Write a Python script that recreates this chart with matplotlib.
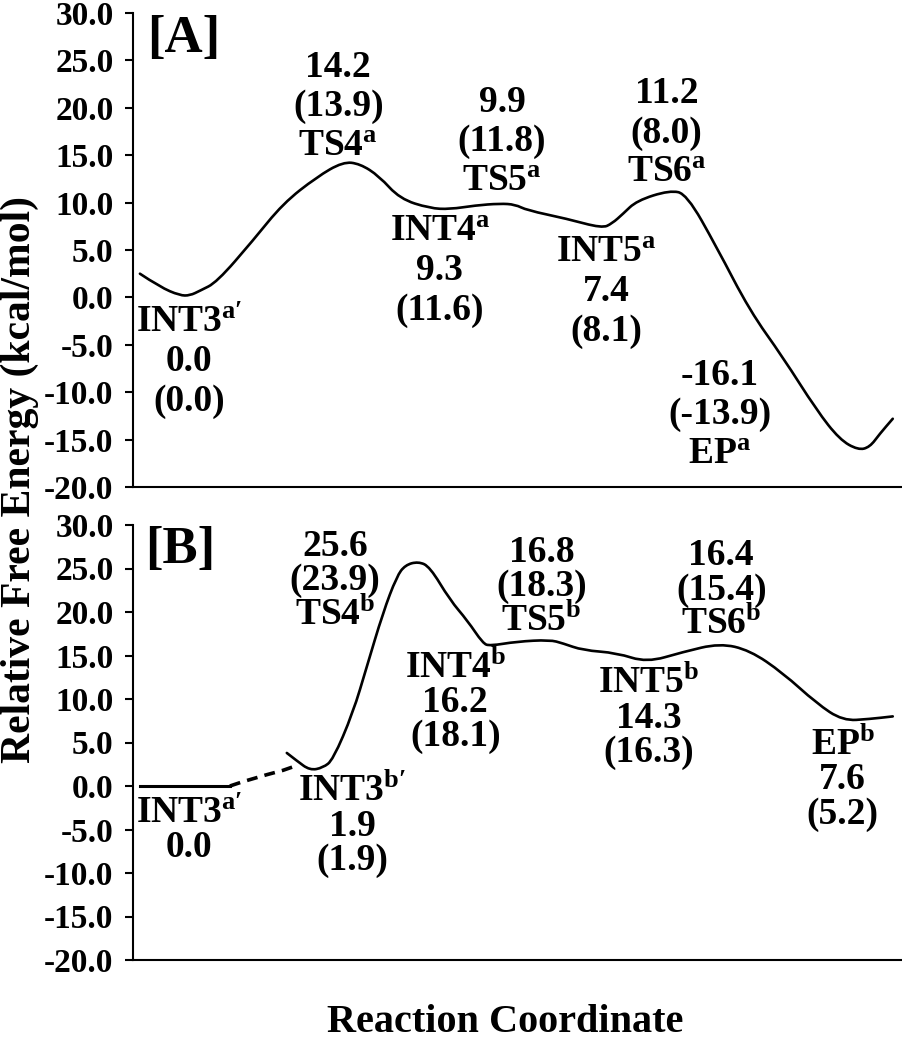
import matplotlib
matplotlib.use("Agg")
import matplotlib.pyplot as plt
from matplotlib.path import Path
from matplotlib.patches import PathPatch

plt.rcParams["font.family"] = ["Liberation Serif", "DejaVu Serif"]
plt.rcParams["font.weight"] = "bold"
plt.rcParams["mathtext.fontset"] = "custom"
plt.rcParams["mathtext.rm"] = "Liberation Serif:bold"
plt.rcParams["mathtext.it"] = "Liberation Serif:bold"
plt.rcParams["mathtext.bf"] = "Liberation Serif:bold"
plt.rcParams["axes.unicode_minus"] = False

# y axis ticks shared by both panels
tick_values = [-20.0, -15.0, -10.0, -5.0, 0.0, 5.0, 10.0, 15.0, 20.0, 25.0, 30.0]

# Panel A: free energy profile (reaction coordinate in arbitrary units 0-100)
path_a_x = [0.9, 3.5, 6.1, 7.4, 8.7, 10.9, 15.6, 19.5, 23.9, 27.3, 29.5, 32.0,
            34.7, 38.6, 41.2, 44.5, 47.7, 49.7, 51.2, 56.4, 61.0, 62.3, 63.7,
            65.5, 69.8, 72.0, 75.9, 80.2, 84.5, 88.9, 91.9, 94.3, 95.8, 97.1, 98.8]
path_a_y = [2.5, 1.1, 0.2, 0.2, 0.7, 1.6, 6.0, 9.9, 12.7, 14.3, 14.1, 12.8,
            10.4, 9.4, 9.3, 9.7, 9.9, 9.8, 9.2, 8.3, 7.3, 7.8, 8.8,
            10.2, 11.3, 10.9, 5.3, -1.4, -6.3, -11.9, -15.0, -16.1, -15.8, -14.4, -12.8]

# Panel B: reference level, dashed connection and profile
flat_b_x = [0.9, 12.6]
flat_b_y = [0.0, 0.0]
dash_b_x = [12.6, 14.3, 17.4, 19.5, 20.8]
dash_b_y = [0.0, 0.5, 1.3, 1.8, 2.2]
path_b_x = [20.0, 21.3, 23.0, 24.7, 26.0, 28.6, 30.4, 32.5, 34.3, 35.4, 37.1,
            38.6, 41.2, 43.5, 45.5, 46.4, 49.9, 54.2, 55.9, 58.5, 62.9, 66.8,
            71.5, 76.3, 80.2, 84.5, 88.9, 92.3, 95.8, 98.8]
path_b_y = [3.8, 2.9, 1.8, 2.1, 3.0, 8.4, 13.7, 19.9, 24.1, 25.4, 25.8,
            25.2, 21.4, 19.0, 16.4, 16.1, 16.6, 16.8, 16.4, 15.6, 15.3, 14.2,
            15.4, 16.4, 15.6, 13.0, 9.5, 7.5, 7.7, 8.0]

# species labels: name, energy, energy in parentheses (None = not shown)
names_a = ["INT3$^{\\mathrm{a}\\prime}$", "TS4$^{\\mathrm{a}}$", "INT4$^{\\mathrm{a}}$",
           "TS5$^{\\mathrm{a}}$", "INT5$^{\\mathrm{a}}$", "TS6$^{\\mathrm{a}}$",
           "EP$^{\\mathrm{a}}$"]
energy_a = ["0.0", "14.2", "9.3", "9.9", "7.4", "11.2", "-16.1"]
energy2_a = ["(0.0)", "(13.9)", "(11.6)", "(11.8)", "(8.1)", "(8.0)", "(-13.9)"]

names_b = ["INT3$^{\\mathrm{a}\\prime}$", "INT3$^{\\mathrm{b}\\prime}$", "TS4$^{\\mathrm{b}}$",
           "INT4$^{\\mathrm{b}}$", "TS5$^{\\mathrm{b}}$", "INT5$^{\\mathrm{b}}$",
           "TS6$^{\\mathrm{b}}$", "EP$^{\\mathrm{b}}$"]
energy_b = ["0.0", "1.9", "25.6", "16.2", "16.8", "14.3", "16.4", "7.6"]
energy2_b = [None, "(1.9)", "(23.9)", "(18.1)", "(18.3)", "(16.3)", "(15.4)", "(5.2)"]

# label placement: (x, y, name on top?)
place_a = [(7.3, -6.8, True), (26.7, 20.1, False), (39.9, 2.8, True),
           (48.0, 16.4, False), (61.5, 0.6, True), (69.4, 17.3, False),
           (76.3, -12.4, False)]
place_b = [(7.3, -5.1, True), (28.5, -4.6, True), (26.3, 23.6, False),
           (41.9, 9.6, True), (53.1, 22.9, False), (67.1, 7.8, True),
           (76.5, 22.5, False), (92.3, 0.7, True)]


def put_block(ax, x, y, lines, step):
    n = len(lines)
    for i, s in enumerate(lines):
        off = ((n - 1) / 2 - i) * step
        ax.annotate(s, (x, y), xytext=(0, off), textcoords="offset points",
                    ha="center", va="center", fontsize=27, fontweight="bold")


def label_panel(ax, names, e1, e2, places, step):
    for name, a, b, (x, y, top) in zip(names, e1, e2, places):
        nums = [a] if b is None else [a, b]
        lines = [name] + nums if top else nums + [name]
        put_block(ax, x, y, lines, step)


def smooth_line(ax, xs, ys, lw):
    # quadratic Bezier through midpoints so the hand-drawn curve looks smooth
    pts = list(zip(xs, ys))
    verts = [pts[0]]
    codes = [Path.MOVETO]
    for i in range(1, len(pts) - 1):
        mid = ((pts[i][0] + pts[i + 1][0]) / 2, (pts[i][1] + pts[i + 1][1]) / 2)
        verts += [pts[i], mid]
        codes += [Path.CURVE3, Path.CURVE3]
    verts.append(pts[-1])
    codes.append(Path.LINETO)
    ax.add_patch(PathPatch(Path(verts, codes), facecolor="none",
                           edgecolor="black", lw=lw, capstyle="round",
                           joinstyle="round"))


def style_axis(ax):
    ax.set_xlim(0, 100)
    ax.set_ylim(-20, 30)
    ax.set_yticks(tick_values)
    ax.set_yticklabels(["%.1f" % v for v in tick_values])
    ax.set_xticks([])
    for side in ["top", "right"]:
        ax.spines[side].set_visible(False)
    for side in ["left", "bottom"]:
        ax.spines[side].set_linewidth(1.5)
    ax.tick_params(axis="y", direction="out", length=6, width=1.5,
                   pad=8, labelsize=24)
    ax.patch.set_alpha(0)


fig = plt.figure(figsize=(9.02, 10.5), dpi=100)
ax_a = fig.add_axes([133 / 902, 1 - 487 / 1050, 1 - 133 / 902, 474 / 1050])
ax_b = fig.add_axes([133 / 902, 1 - 960 / 1050, 1 - 133 / 902, 435 / 1050])

smooth_line(ax_a, path_a_x, path_a_y, 1.9)
style_axis(ax_a)
label_panel(ax_a, names_a, energy_a, energy2_a, place_a, 28.5)
ax_a.text(1.8, 27.3, "[A]", fontsize=38, fontweight="bold", ha="left", va="center")

ax_b.plot(flat_b_x, flat_b_y, color="black", lw=2.2)
ax_b.plot(dash_b_x, dash_b_y, color="black", lw=2.6, ls=(0, (3, 2)))
smooth_line(ax_b, path_b_x, path_b_y, 1.9)
style_axis(ax_b)
label_panel(ax_b, names_b, energy_b, energy2_b, place_b, 24.8)
ax_b.text(1.6, 27.1, "[B]", fontsize=38, fontweight="bold", ha="left", va="center")

fig.text(20 / 902, 1 - 480 / 1050, "Relative Free Energy (kcal/mol)", rotation=90,
         ha="center", va="center", fontsize=30, fontweight="bold")
fig.text(505 / 902, 1 - 1022 / 1050, "Reaction Coordinate",
         ha="center", va="center", fontsize=29, fontweight="bold")

fig.savefig("out.png", dpi=100)
